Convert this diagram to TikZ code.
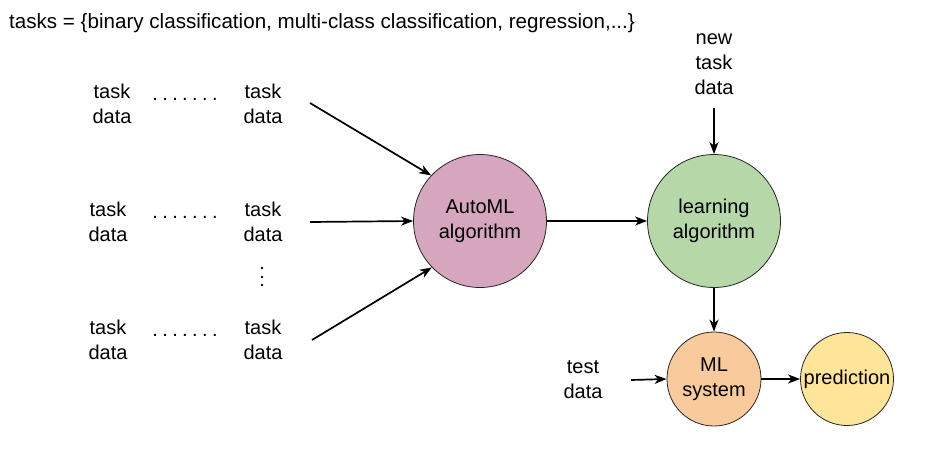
\documentclass[tikz,border=0pt]{standalone}
\usepackage{fontspec}
\setmainfont{Liberation Sans}
\usetikzlibrary{arrows.meta}
\definecolor{cpink}{HTML}{D5A6BD}
\definecolor{cgreen}{HTML}{B6D7A8}
\definecolor{corange}{HTML}{F9CB9C}
\definecolor{cyellow}{HTML}{FFE599}
\newcommand{\hdotsrow}{.\hspace{4.4pt}.\hspace{4.4pt}.\hspace{4.4pt}.\hspace{4.4pt}.\hspace{4.4pt}.\hspace{4.4pt}.}
\begin{document}
\begin{tikzpicture}[x=1pt,y=-1pt,
  lbl/.style={align=center,font=\fontsize{20}{25}\selectfont,inner sep=0pt},
  circ/.style={circle,draw=black!85,line width=0.8pt,align=center,font=\fontsize{20}{25}\selectfont,inner sep=0pt},
  arr/.style={line width=1.7pt,-{Stealth[length=12pt,width=9pt,inset=3.5pt]}},
  dotsstyle/.style={font=\fontsize{20}{25}\selectfont,inner sep=0pt},
  vdot/.style={circle,fill=black,inner sep=0pt,minimum size=2.6pt}]
\useasboundingbox (0,0) rectangle (932,448);
\node[lbl,anchor=west,font=\fontsize{20.6}{25}\selectfont] (title) at (9,23) {tasks = \{binary classification, multi-class classification, regression,...\}};
% rows
\node[lbl] (l1) at (112,104) {task\\data};
\node[dotsstyle] (d1) at (185,99) {\hdotsrow};
\node[lbl] (r1) at (263,104) {task\\data};
\node[lbl] (l2) at (108,222) {task\\data};
\node[dotsstyle] (d2) at (185,217) {\hdotsrow};
\node[lbl] (r2) at (263,222) {task\\data};
\node[lbl] (l3) at (108,340) {task\\data};
\node[dotsstyle] (d3) at (185,335) {\hdotsrow};
\node[lbl] (r3) at (263,340) {task\\data};
\node[vdot] (vd1) at (262,268) {};
\node[vdot] (vd2) at (262,277) {};
\node[vdot] (vd3) at (262,285) {};
% circles
\node[circ,fill=cpink,minimum size=133pt] (automl) at (480,221) {AutoML\\algorithm};
\node[circ,fill=cgreen,minimum size=133pt] (learn) at (714,221) {learning\\algorithm};
\node[circ,fill=corange,minimum size=94pt] (ml) at (714,379) {ML\\system};
\node[circ,fill=cyellow,minimum size=93pt] (pred) at (847,379) {prediction};
\node[lbl] (newtask) at (714,64) {new\\task\\data};
\node[lbl] (test) at (583,380) {test\\data};
% connectors
\coordinate (s1) at (310,103);
\coordinate (s2) at (310,222);
\coordinate (s3) at (312,340);
\coordinate (s4) at (714,108);
\coordinate (s5) at (631,380);
\draw[arr] (s1) -- (automl.137);
\draw[arr] (s2) -- (automl.west);
\draw[arr] (s3) -- (automl.224);
\draw[arr] (automl) -- (learn);
\draw[arr] (s4) -- (learn.north);
\draw[arr] (learn) -- (ml);
\draw[arr] (s5) -- (ml.west);
\draw[arr] (ml) -- (pred);
\end{tikzpicture}
\end{document}
